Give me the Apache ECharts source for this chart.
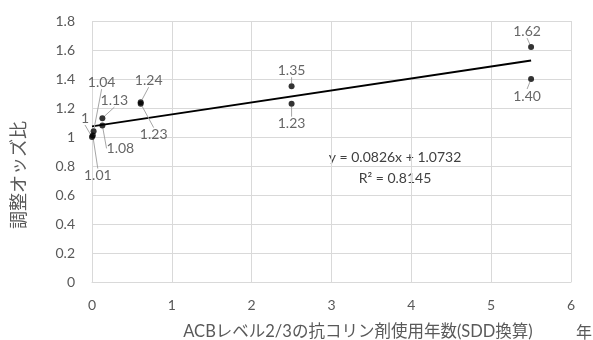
<!DOCTYPE html>
<html>
<head>
<meta charset="utf-8">
<script src="https://cdn.jsdelivr.net/npm/echarts@6/dist/echarts.min.js"></script>
<style>
  html, body { margin: 0; padding: 0; background: #fff; }
  #chart { width: 593px; height: 340px; }
</style>
</head>
<body>
<div id="chart"></div>
<script>
// Years of ACB level 2/3 anticholinergic use (SDD) vs adjusted odds ratio
const xValues = [5.5, 5.5, 2.5, 2.5, 0.61, 0.61, 0.13, 0.13, 0.02, 0.0, 0.01];
const oddsRatios = [1.62, 1.40, 1.35, 1.23, 1.24, 1.23, 1.13, 1.08, 1.04, 1.00, 1.01];
const labelTexts = ['1.62', '1.40', '1.35', '1.23', '1.24', '1.23', '1.13', '1.08', '1.04', '1', '1.01'];
// label offsets from each point (pixels)
const labelOffsets = [
  [-4, -16], [-4, 17], [0, -16], [0, 20], [8, -22], [13, 31],
  [12, -18], [18, 23], [8, -49], [-7, -19], [5, 40]
];
const xTicks = [0, 1, 2, 3, 4, 5, 6];
const yTicks = [0, 0.2, 0.4, 0.6, 0.8, 1, 1.2, 1.4, 1.6, 1.8];
const slope = 0.0826;
const intercept = 1.0732;
const rSquared = 0.8145;
const trendRange = [0, 5.5];

const latin = 'Lato, "Noto Sans CJK JP", sans-serif';
const chart = echarts.init(document.getElementById('chart'), null, { renderer: 'canvas' });

const points = xValues.map((x, i) => [x, oddsRatios[i]]);
const trend = trendRange.map(x => [x, slope * x + intercept]);

chart.setOption({
  animation: false,
  backgroundColor: '#ffffff',
  grid: { left: 92, right: 22, top: 21, bottom: 58, containLabel: false },
  xAxis: {
    type: 'value', min: xTicks[0], max: xTicks[xTicks.length - 1], interval: 1,
    axisLine: { show: true, lineStyle: { color: '#d9d9d9', width: 1 } },
    axisTick: { show: false },
    axisLabel: { color: '#595959', fontSize: 14, fontFamily: latin, margin: 16 },
    splitLine: { show: true, lineStyle: { color: '#d9d9d9', width: 1 } }
  },
  yAxis: {
    type: 'value', min: yTicks[0], max: yTicks[yTicks.length - 1], interval: 0.2,
    axisLine: { show: false },
    axisTick: { show: false },
    axisLabel: {
      color: '#595959', fontSize: 14, fontFamily: latin, margin: 17,
      formatter: v => String(Math.round(v * 10) / 10)
    },
    splitLine: { show: true, lineStyle: { color: '#d9d9d9', width: 1 } }
  },
  series: [
    {
      type: 'line',
      data: trend,
      showSymbol: false,
      lineStyle: { color: '#000000', width: 2 },
      silent: true,
      z: 2
    },
    {
      type: 'scatter',
      data: points,
      symbol: 'circle',
      symbolSize: 6,
      itemStyle: { color: '#000000' },
      z: 3,
      label: {
        show: true,
        position: 'inside',
        color: '#404040',
        fontSize: 14,
        fontFamily: latin,
        formatter: p => labelTexts[p.dataIndex]
      },
      labelLine: { show: true, lineStyle: { color: '#a6a6a6', width: 1 } },
      labelLayout: p => ({ dx: labelOffsets[p.dataIndex][0], dy: labelOffsets[p.dataIndex][1], moveOverlap: null })
    }
  ],
  graphic: [
    {
      type: 'text', x: 18, y: 175, rotation: Math.PI / 2,
      style: {
        text: '調整オッズ比', fill: '#595959', fontSize: 18,
        fontFamily: '"Noto Sans CJK JP", sans-serif', align: 'center', verticalAlign: 'middle'
      }
    },
    {
      type: 'text', x: 358, y: 332,
      style: {
        text: 'ACBレベル2/3の抗コリン剤使用年数(SDD換算)', fill: '#595959', fontSize: 16.5,
        fontFamily: latin, align: 'center', verticalAlign: 'middle'
      }
    },
    {
      type: 'text', x: 584, y: 332,
      style: {
        text: '年', fill: '#595959', fontSize: 16,
        fontFamily: '"Noto Sans CJK JP", sans-serif', align: 'center', verticalAlign: 'middle'
      }
    },
    {
      type: 'text', x: 395, y: 157,
      style: {
        text: 'y = ' + slope + 'x + ' + intercept, fill: '#404040', fontSize: 14,
        fontFamily: latin, align: 'center', verticalAlign: 'middle'
      }
    },
    {
      type: 'text', x: 395, y: 178,
      style: {
        text: 'R² = ' + rSquared, fill: '#404040', fontSize: 14,
        fontFamily: latin, align: 'center', verticalAlign: 'middle'
      }
    }
  ]
});
</script>
</body>
</html>
